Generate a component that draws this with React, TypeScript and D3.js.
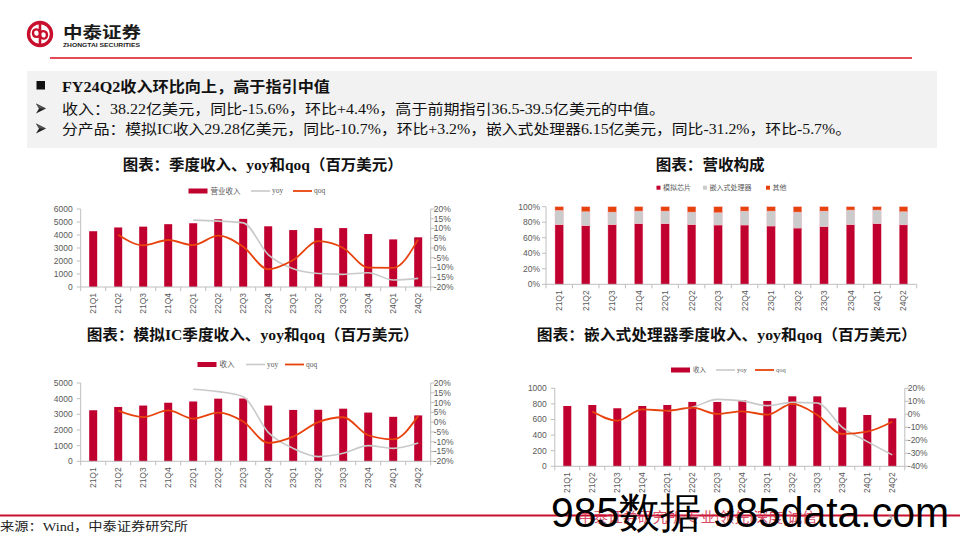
import React from "react";
import * as d3 from "d3";

// ---------------- DATA ----------------
const quarters = ["21Q1","21Q2","21Q3","21Q4","22Q1","22Q2","22Q3","22Q4","23Q1","23Q2","23Q3","23Q4","24Q1","24Q2"];

const revenue = [4290, 4580, 4643, 4832, 4905, 5212, 5241, 4670, 4379, 4531, 4532, 4076, 3661, 3822];
const revenueYoy: (number | null)[] = [null, null, null, null, 14.3, 13.8, 12.9, -3.4, -10.7, -13.1, -13.5, -12.7, -16.4, -15.6];
const revenueQoq: (number | null)[] = [null, 6.8, 1.4, 4.1, 1.5, 6.3, 0.6, -10.9, -6.2, 3.5, 0.0, -10.1, -10.2, 4.4];

const analogShare = [76.8, 75.5, 76.8, 78.1, 78.1, 76.8, 76.4, 76.4, 75.1, 72.5, 74.2, 76.8, 78.1, 76.6];
const embeddedShare = [18.5, 18.1, 16.3, 16.3, 16.3, 16.3, 15.9, 18.0, 19.3, 20.6, 20.2, 18.9, 17.6, 17.0];
const otherShare = [4.7, 6.4, 6.9, 5.6, 5.6, 6.9, 7.7, 5.6, 5.6, 6.9, 5.6, 4.3, 4.3, 6.4];

const analogRev = [3260, 3470, 3560, 3740, 3820, 4000, 4010, 3560, 3280, 3290, 3360, 3110, 2840, 2930];
const analogYoy: (number | null)[] = [null, null, null, null, 16.8, 15.6, 13.0, -5.2, -13.4, -17.6, -15.9, -12.0, -13.4, -10.7];
const analogQoq: (number | null)[] = [null, 5.9, 2.6, 6.0, 1.8, 4.9, 0.3, -10.6, -7.4, 0.0, 2.5, -6.7, -8.8, 3.2];

const embeddedRev = [773, 786, 744, 773, 786, 825, 825, 846, 838, 897, 897, 756, 658, 615];
const embeddedYoy: (number | null)[] = [null, null, null, null, 2.5, 5.4, 11.5, 10.3, 6.7, 9.2, 8.7, -10.0, -21.0, -31.2];
const embeddedQoq: (number | null)[] = [null, 2.1, -4.9, 3.8, 2.8, 5.1, 0.3, 2.3, -0.3, 8.0, -0.5, -15.1, -13.3, -5.7];

const headline = "FY24Q2收入环比向上，高于指引中值";
const bullet1 = "收入：38.22亿美元，同比-15.6%，环比+4.4%，高于前期指引36.5-39.5亿美元的中值。";
const bullet2 = "分产品：模拟IC收入29.28亿美元，同比-10.7%，环比+3.2%，嵌入式处理器6.15亿美元，同比-31.2%，环比-5.7%。";

const title1 = "图表：季度收入、yoy和qoq（百万美元）";
const title2 = "图表：营收构成";
const title3 = "图表：模拟IC季度收入、yoy和qoq（百万美元）";
const title4 = "图表：嵌入式处理器季度收入、yoy和qoq（百万美元）";
const shareLegend = ["模拟芯片", "嵌入式处理器", "其他"];

// ---------------- STYLE ----------------
const RED = "#C0002F";
const GRAY = "#C9C9C9";
const ORANGE = "#E8420C";
const AXIS = "#BFBFBF";
const TICK_TXT = "#595959";
const SANS = "'Liberation Sans', Arial, sans-serif";
const SERIF = "'Liberation Serif', 'Noto Sans CJK SC', serif";
const CJK = "'Noto Sans CJK SC', sans-serif";

type ComboCfg = {
  x0: number; x1: number; yTop: number; yBottom: number;
  leftMax: number; leftStep: number;
  rMin: number; rMax: number; rStep: number;
  bars: number[]; yoy: (number | null)[]; qoq: (number | null)[];
  legendY: number; legendX: number[]; barLabel: string; legendFont: number;
};

function XAxis({ x, y, x0, x1 }: { x: d3.ScaleBand<string>; y: number; x0: number; x1: number }) {
  const step = x.step();
  return (
    <g>
      <line x1={x0} x2={x1} y1={y} y2={y} stroke={AXIS} strokeWidth={1} />
      {d3.range(quarters.length + 1).map(i => (
        <line key={i} x1={x0 + i * step} x2={x0 + i * step} y1={y} y2={y + 4} stroke={AXIS} strokeWidth={1} />
      ))}
      {quarters.map(q => {
        const cx = (x(q) as number) + step / 2;
        return (
          <text key={q} transform={`translate(${cx + 3},${y + 6}) rotate(-90)`} textAnchor="end"
            fontFamily={SANS} fontSize={8.5} fill={TICK_TXT}>{q}</text>
        );
      })}
    </g>
  );
}

function ComboChart({ c }: { c: ComboCfg }) {
  const x = d3.scaleBand<string>().domain(quarters).range([c.x0, c.x1]);
  const step = x.step();
  const bw = 8;
  const yL = d3.scaleLinear().domain([0, c.leftMax]).range([c.yBottom, c.yTop]);
  const yR = d3.scaleLinear().domain([c.rMin, c.rMax]).range([c.yBottom, c.yTop]);
  const lTicks = d3.range(0, c.leftMax + 0.1, c.leftStep);
  const rTicks = d3.range(c.rMin, c.rMax + 0.001, c.rStep);
  const cx = (i: number) => (x(quarters[i]) as number) + step / 2;
  const line = d3.line<number | null>()
    .defined(d => d != null)
    .x((_, i) => cx(i))
    .y(d => yR(d as number))
    .curve(d3.curveMonotoneX);
  const [lx0, lx1, lx2] = c.legendX;
  const ly = c.legendY;
  return (
    <g>
      {/* left axis */}
      <line x1={c.x0} x2={c.x0} y1={c.yTop} y2={c.yBottom} stroke={AXIS} />
      {lTicks.map(t => (
        <g key={"l" + t}>
          <line x1={c.x0 - 4} x2={c.x0} y1={yL(t)} y2={yL(t)} stroke={AXIS} />
          <text x={c.x0 - 8} y={yL(t)} dy="0.35em" textAnchor="end" fontFamily={SANS} fontSize={8.5} fill={TICK_TXT}>{t}</text>
        </g>
      ))}
      {/* right axis */}
      <line x1={c.x1} x2={c.x1} y1={c.yTop} y2={c.yBottom} stroke={AXIS} />
      {rTicks.map(t => (
        <g key={"r" + t}>
          <line x1={c.x1} x2={c.x1 + 4} y1={yR(t)} y2={yR(t)} stroke={AXIS} />
          <text x={c.x1 + 3} y={yR(t)} dy="0.35em" textAnchor="start" fontFamily={SANS} fontSize={8.5} fill={TICK_TXT}>{`${Math.round(t)}%`}</text>
        </g>
      ))}
      {/* bars */}
      {c.bars.map((v, i) => (
        <rect key={i} x={cx(i) - bw / 2} y={yL(v)} width={bw} height={c.yBottom - yL(v)} fill={RED} />
      ))}
      <XAxis x={x} y={c.yBottom} x0={c.x0} x1={c.x1} />
      {/* lines */}
      <path d={line(c.yoy) || ""} fill="none" stroke={GRAY} strokeWidth={1.6} />
      <path d={line(c.qoq) || ""} fill="none" stroke={ORANGE} strokeWidth={1.8} />
      {/* legend */}
      <rect x={lx0} y={ly - 2.5} width={19} height={5} fill={RED} />
      <text x={lx0 + 22} y={ly} dy="0.35em" fontFamily={SERIF} fontSize={c.legendFont} fill={TICK_TXT}>{c.barLabel}</text>
      <line x1={lx1} x2={lx1 + 19} y1={ly} y2={ly} stroke={GRAY} strokeWidth={1.6} />
      <text x={lx1 + 21} y={ly} dy="0.3em" fontFamily={SERIF} fontSize={c.legendFont} fill={TICK_TXT}>yoy</text>
      <line x1={lx2} x2={lx2 + 19} y1={ly} y2={ly} stroke={ORANGE} strokeWidth={1.8} />
      <text x={lx2 + 21} y={ly} dy="0.3em" fontFamily={SERIF} fontSize={c.legendFont} fill={TICK_TXT}>qoq</text>
    </g>
  );
}

function ShareChart() {
  const x0 = 546, x1 = 916.7, yTop = 206.7, yBottom = 284.3;
  const x = d3.scaleBand<string>().domain(quarters).range([x0, x1]);
  const step = x.step();
  const bw = 8.5;
  const y = d3.scaleLinear().domain([0, 100]).range([yBottom, yTop]);
  const ticks = d3.range(0, 101, 20);
  const cols = [RED, "#CBCBCB", ORANGE];
  const stack = quarters.map((_, i) => {
    const a = analogShare[i], e = embeddedShare[i], o = otherShare[i];
    return [[0, a], [a, a + e], [a + e, a + e + o]] as [number, number][];
  });
  const ly = 187.7;
  const legendPos = [656.5, 703, 766];
  return (
    <g>
      <line x1={x0} x2={x0} y1={yTop} y2={yBottom} stroke={AXIS} />
      {ticks.map(t => (
        <g key={t}>
          <line x1={x0 - 4} x2={x0} y1={y(t)} y2={y(t)} stroke={AXIS} />
          <text x={x0 - 6} y={y(t)} dy="0.35em" textAnchor="end" fontFamily={SANS} fontSize={8.5} fill={TICK_TXT}>{`${t}%`}</text>
        </g>
      ))}
      {stack.map((segs, i) => (
        <g key={i}>
          {segs.map(([a, b], j) => (
            <rect key={j} x={(x(quarters[i]) as number) + step / 2 - bw / 2} y={y(b)} width={bw}
              height={y(a) - y(b)} fill={cols[j]} stroke="#F4B6C2" strokeWidth={0.4} />
          ))}
        </g>
      ))}
      <XAxis x={x} y={yBottom} x0={x0} x1={x1} />
      {shareLegend.map((s, i) => (
        <g key={s}>
          <rect x={legendPos[i]} y={ly - 2} width={4} height={4} fill={cols[i]} />
          <text x={legendPos[i] + 6.5} y={ly} dy="0.35em" fontFamily={SERIF} fontSize={7} fill={TICK_TXT}>{s}</text>
        </g>
      ))}
    </g>
  );
}

function Logo() {
  return (
    <g>
      <circle cx={40} cy={34} r={11.5} fill="none" stroke="#C8102E" strokeWidth={3.4} />
      <path d="M40,24 L40,44" stroke="#C8102E" strokeWidth={2.6} />
      <path d="M40,34 C40,28 33,28 33,33 C33,38 40,38 40,34 Z" fill="none" stroke="#C8102E" strokeWidth={2.4} />
      <path d="M40,34 C40,40 47,40 47,35 C47,30 40,30 40,34 Z" fill="none" stroke="#C8102E" strokeWidth={2.4} />
      <text x={63} y={38} fontFamily={CJK} fontWeight={700} fontSize={16} fill="#1a1a1a" textLength={78} lengthAdjust="spacingAndGlyphs">中泰证券</text>
      <text x={63} y={47} fontFamily={SANS} fontWeight={700} fontSize={5.4} fill="#1a1a1a" textLength={77} lengthAdjust="spacingAndGlyphs">ZHONGTAI SECURITIES</text>
    </g>
  );
}

function Arrow({ x, y }: { x: number; y: number }) {
  return (
    <g>
      <path d={`M${x},${y - 5} L${x + 10},${y} L${x},${y + 5} L${x + 3},${y} Z`} fill="#222" />
      <path d={`M${x},${y - 5} L${x + 10},${y} L${x + 3},${y} Z`} fill="#555" />
    </g>
  );
}

export default function App() {
  const c1: ComboCfg = {
    x0: 80.7, x1: 430.7, yTop: 209, yBottom: 287,
    leftMax: 6000, leftStep: 1000, rMin: -20, rMax: 20, rStep: 5,
    bars: revenue, yoy: revenueYoy, qoq: revenueQoq,
    legendY: 191, legendX: [188.5, 251, 293], barLabel: "营业收入", legendFont: 7.5,
  };
  const c3: ComboCfg = {
    x0: 80.7, x1: 430.7, yTop: 383, yBottom: 461.3,
    leftMax: 5000, leftStep: 1000, rMin: -20, rMax: 20, rStep: 5,
    bars: analogRev, yoy: analogYoy, qoq: analogQoq,
    legendY: 364.5, legendX: [197.5, 246, 285], barLabel: "收入", legendFont: 7.5,
  };
  const c4: ComboCfg = {
    x0: 554.8, x1: 904.8, yTop: 388.3, yBottom: 466.3,
    leftMax: 1000, leftStep: 200, rMin: -40, rMax: 20, rStep: 10,
    bars: embeddedRev, yoy: embeddedYoy, qoq: embeddedQoq,
    legendY: 370, legendX: [671, 716, 755], barLabel: "收入", legendFont: 6.5,
  };
  return (
    <svg width={960} height={540} viewBox="0 0 960 540"
      style={{ position: "absolute", left: 0, top: 0, background: "#fff" }}>
      <rect x={0} y={0} width={960} height={540} fill="#fff" />
      <Logo />
      <line x1={50} x2={912} y1={58} y2={58} stroke="#D8121D" strokeWidth={1.6} />

      {/* summary box */}
      <rect x={27} y={71} width={910} height={77} fill="#F2F2F2" />
      <rect x={36.5} y={81} width={8.5} height={8.5} fill="#111" />
      <text x={62} y={91.5} fontFamily={SERIF} fontWeight={700} fontSize={14.5} fill="#111" textLength={268} lengthAdjust="spacingAndGlyphs">{headline}</text>
      <Arrow x={36} y={108.5} />
      <text x={62} y={113.5} fontFamily={SERIF} fontSize={14} fill="#111" textLength={603} lengthAdjust="spacingAndGlyphs">{bullet1}</text>
      <Arrow x={36} y={128.5} />
      <text x={62} y={133.5} fontFamily={SERIF} fontSize={14} fill="#111" textLength={789} lengthAdjust="spacingAndGlyphs">{bullet2}</text>

      {/* titles */}
      <text x={122.7} y={169.5} fontFamily={SERIF} fontWeight={700} fontSize={15} fill="#111" textLength={280} lengthAdjust="spacingAndGlyphs">{title1}</text>
      <text x={655.7} y={169.5} fontFamily={SERIF} fontWeight={700} fontSize={15} fill="#111" textLength={109} lengthAdjust="spacingAndGlyphs">{title2}</text>
      <text x={86.7} y={339.5} fontFamily={SERIF} fontWeight={700} fontSize={15} fill="#111" textLength={332} lengthAdjust="spacingAndGlyphs">{title3}</text>
      <text x={536.7} y={339.5} fontFamily={SERIF} fontWeight={700} fontSize={15} fill="#111" textLength={380} lengthAdjust="spacingAndGlyphs">{title4}</text>

      <ComboChart c={c1} />
      <ShareChart />
      <ComboChart c={c3} />
      <ComboChart c={c4} />

      {/* footer */}
      <line x1={0} x2={960} y1={515.5} y2={515.5} stroke="#C8102E" strokeWidth={2} />
      <text x={0} y={531} fontFamily={SERIF} fontSize={12} fill="#222" textLength={188} lengthAdjust="spacingAndGlyphs">来源：Wind，中泰证券研究所</text>
      <text x={578} y={522} fontFamily={CJK} fontSize={14} fill="#D2304F" opacity={0.85} textLength={239} lengthAdjust="spacingAndGlyphs">中泰证券研究所 专业|领先|深度|诚信</text>
      <text x={888} y={520} fontFamily={SANS} fontSize={8} fill="#777">3</text>
      <text x={551} y={527} fontFamily={SANS} fontSize={42} fill="#000" textLength={398} lengthAdjust="spacingAndGlyphs">985数据 985data.com</text>
    </svg>
  );
}
